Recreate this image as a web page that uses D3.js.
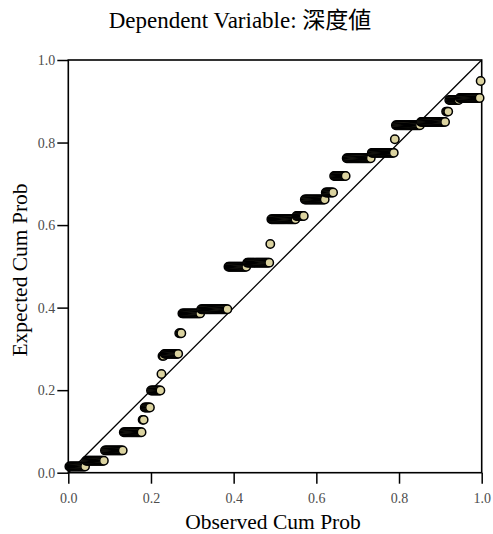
<!DOCTYPE html>
<html>
<head>
<meta charset="utf-8">
<script src="https://cdn.jsdelivr.net/npm/d3@7"></script>
<style>
  body { margin: 0; background: #fff; }
  .tick text { font-family: "Liberation Serif", "DejaVu Serif", serif; font-size: 14px; fill: #4d4d4d; }
  .tick line { stroke: #000; stroke-width: 1.5; }
  .domain { display: none; }
</style>
</head>
<body>
<svg id="canvas"></svg>
<script>
// Tie groups of the residuals, in rank order.
// Expected cum prob of each group.
var expected = [0.015, 0.029, 0.054, 0.098, 0.128, 0.158, 0.199, 0.239, 0.283, 0.288,
                0.338, 0.386, 0.396, 0.499, 0.509, 0.554, 0.614, 0.622, 0.662, 0.679,
                0.719, 0.762, 0.775, 0.808, 0.842, 0.850, 0.875, 0.903, 0.908, 0.949];
// Number of cases in each group.
var counts = [16, 18, 18, 18, 2, 6, 10, 1, 2, 14,
              3, 18, 26, 18, 22, 1, 24, 8, 20, 8,
              12, 24, 22, 1, 24, 24, 3, 10, 20, 1];

var xTicks = [0, 0.2, 0.4, 0.6, 0.8, 1.0];
var yTicks = [0, 0.2, 0.4, 0.6, 0.8, 1.0];

var titleLatin = 'Dependent Variable: ';
var titleCjk = '深度値';
var xTitle = 'Observed Cum Prob';
var yTitle = 'Expected Cum Prob';

// Canvas properties.
var canvas = { width: 493, height: 534 };
var plot = { left: 68.3, right: 481.7, top: 60, bottom: 472.7 };

var svg = d3.select('#canvas')
            .attr('width', canvas.width)
            .attr('height', canvas.height);

var xScale = d3.scaleLinear().domain([0, 1]).range([plot.left, plot.right]);
var yScale = d3.scaleLinear().domain([0, 1]).range([plot.bottom, plot.top]);

// Build one point per case: observed cum prob is rank / (n + 1).
var n = d3.sum(counts);
var points = [];
var rank = 0;
for (var i = 0; i < expected.length; i++) {
  for (var j = 0; j < counts[i]; j++) {
    rank++;
    points.push({ observed: rank / (n + 1), expected: expected[i] });
  }
}

// Axes.
svg.append('g')
    .attr('transform', 'translate(0,' + plot.bottom + ')')
    .call(d3.axisBottom(xScale).tickValues(xTicks).tickFormat(d3.format('.1f')).tickSize(11).tickPadding(9));

svg.append('g')
    .attr('transform', 'translate(' + plot.left + ',0)')
    .call(d3.axisLeft(yScale).tickValues(yTicks).tickFormat(d3.format('.1f')).tickSize(11).tickPadding(2));

// Frame.
svg.append('rect')
    .attr('x', plot.left)
    .attr('y', plot.top)
    .attr('width', plot.right - plot.left)
    .attr('height', plot.bottom - plot.top)
    .attr('fill', 'none')
    .attr('stroke', '#000')
    .attr('stroke-width', 1.6);

// Reference diagonal.
svg.append('line')
    .attr('x1', xScale(0)).attr('y1', yScale(0))
    .attr('x2', xScale(1)).attr('y2', yScale(1))
    .attr('stroke', '#000')
    .attr('stroke-width', 1.3);

// Points.
svg.selectAll('circle')
    .data(points)
    .enter()
    .append('circle')
    .attr('cx', function(d) { return xScale(d.observed); })
    .attr('cy', function(d) { return yScale(d.expected); })
    .attr('r', 4.2)
    .attr('fill', '#dbd3a0')
    .attr('stroke', '#000')
    .attr('stroke-width', 1.5);

// Titles.
var title = svg.append('text')
    .attr('x', 240)
    .attr('y', 28)
    .attr('text-anchor', 'middle')
    .style('font-size', '23px');
title.append('tspan')
    .style('font-family', '"Liberation Serif", serif')
    .text(titleLatin);
title.append('tspan')
    .style('font-family', '"Noto Sans CJK TC", "Noto Sans CJK JP", sans-serif')
    .text(titleCjk);

svg.append('text')
    .attr('x', 273)
    .attr('y', 529)
    .attr('text-anchor', 'middle')
    .style('font-family', '"Liberation Serif", serif')
    .style('font-size', '21.5px')
    .text(xTitle);

svg.append('text')
    .attr('transform', 'translate(27,270) rotate(-90)')
    .attr('text-anchor', 'middle')
    .style('font-family', '"Liberation Serif", serif')
    .style('font-size', '21.5px')
    .text(yTitle);
</script>
</body>
</html>
